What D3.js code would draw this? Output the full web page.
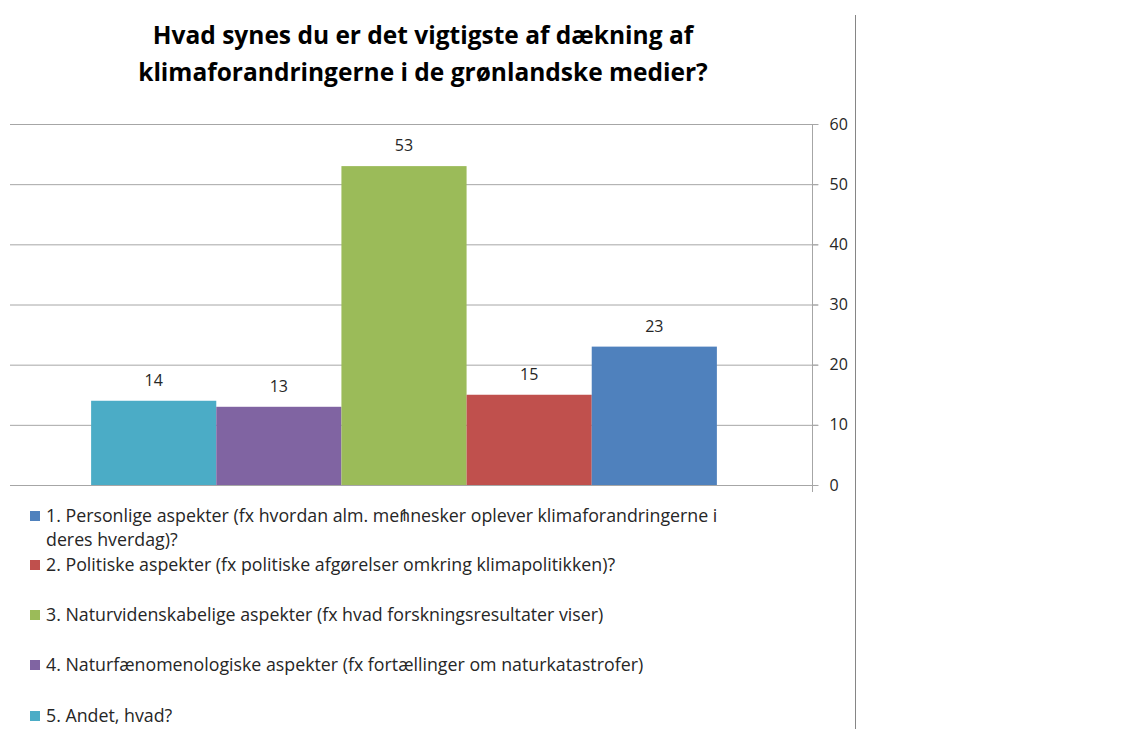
<!DOCTYPE html>
<html>
<head>
<meta charset="utf-8">
<script src="https://cdn.jsdelivr.net/npm/d3@7"></script>
<style>
  body { margin: 0; background: #fff; }
  text { font-family: "Open Sans", "Noto Sans", sans-serif; }
</style>
</head>
<body>
<script>
var width = 1129,
    height = 729

// data
var categories = ["1"]
var seriesNames = [
  "1. Personlige aspekter (fx hvordan alm. mennesker oplever klimaforandringerne i deres hverdag)?",
  "2. Politiske aspekter (fx politiske afgørelser omkring klimapolitikken)?",
  "3. Naturvidenskabelige aspekter (fx hvad forskningsresultater viser)",
  "4. Naturfænomenologiske aspekter (fx fortællinger om naturkatastrofer)",
  "5. Andet, hvad?"
]
var seriesValues = [23, 15, 53, 13, 14]
var seriesColors = ["#4F81BD", "#C0504D", "#9BBB59", "#8064A2", "#4BACC6"]
var yTicks = [0, 10, 20, 30, 40, 50, 60]
var titleLines = ["Hvad synes du er det vigtigste af dækning af", "klimaforandringerne i de grønlandske medier?"]

var svg = d3.select("body").append("svg")
    .attr("width", width)
    .attr("height", height)

var plot = {left: 10, right: 812, top: 124, bottom: 485}

var y = d3.scaleLinear().domain([0, 60]).range([plot.bottom, plot.top])

var x0 = d3.scaleBand().domain(categories)
    .range([plot.left - 14, plot.right])
    .paddingInner(0).paddingOuter(0.152)

// bars drawn in reversed series order (Excel style)
var order = d3.range(seriesNames.length).reverse()
var x1 = d3.scaleBand().domain(order).range([0, x0.bandwidth()])

// gridlines
svg.append("g").selectAll("line").data(yTicks).enter().append("line")
    .attr("x1", plot.left).attr("x2", plot.right + 6)
    .attr("y1", function(d) { return y(d) + 0.5 })
    .attr("y2", function(d) { return y(d) + 0.5 })
    .attr("stroke", "#a6a6a6")
    .attr("stroke-width", 1)

// right axis
var axis = svg.append("g")
    .attr("transform", "translate(" + (plot.right + 0.5) + ",0)")
    .call(d3.axisRight(y).tickValues(yTicks).tickSize(6).tickPadding(11))
axis.select(".domain").remove()
axis.selectAll(".tick line").attr("stroke", "#a6a6a6")
axis.selectAll(".tick text")
    .attr("fill", "#262626")
    .style("font-size", "16px")
    .style("font-family", "'Open Sans', sans-serif")
axis.append("line")
    .attr("x1", 0).attr("x2", 0)
    .attr("y1", plot.top).attr("y2", plot.bottom + 7)
    .attr("stroke", "#a6a6a6")

// bars
var bars = svg.append("g")
categories.forEach(function(c) {
  bars.selectAll("rect.s" + c).data(order).enter().append("rect")
      .attr("x", function(i) { return x0(c) + x1(i) })
      .attr("width", x1.bandwidth())
      .attr("y", function(i) { return y(seriesValues[i]) })
      .attr("height", function(i) { return y(0) - y(seriesValues[i]) })
      .attr("fill", function(i) { return seriesColors[i] })

  bars.selectAll("text.s" + c).data(order).enter().append("text")
      .attr("x", function(i) { return x0(c) + x1(i) + x1.bandwidth() / 2 })
      .attr("y", function(i) { return y(seriesValues[i]) - 15 })
      .attr("text-anchor", "middle")
      .attr("fill", "#262626")
      .style("font-size", "16px")
      .text(function(i) { return seriesValues[i] })

  svg.append("text")
      .attr("x", x0(c) + x0.bandwidth() / 2)
      .attr("y", 521)
      .attr("text-anchor", "middle")
      .attr("fill", "#262626")
      .style("font-size", "16px")
      .text(c)
})

// title
svg.append("g").selectAll("text").data(titleLines).enter().append("text")
    .attr("x", 423)
    .attr("y", function(d, i) { return 44 + i * 37 })
    .attr("text-anchor", "middle")
    .attr("fill", "#000")
    .style("font-size", "24.5px")
    .style("font-weight", "bold")
    .text(function(d) { return d })

// legend
var legendRows = [
  {s: 0, lines: ["1. Personlige aspekter (fx hvordan alm. mennesker oplever klimaforandringerne i", "deres hverdag)?"], y: 516},
  {s: 1, lines: ["2. Politiske aspekter (fx politiske afgørelser omkring klimapolitikken)?"], y: 565},
  {s: 2, lines: ["3. Naturvidenskabelige aspekter (fx hvad forskningsresultater viser)"], y: 615},
  {s: 3, lines: ["4. Naturfænomenologiske aspekter (fx fortællinger om naturkatastrofer)"], y: 665},
  {s: 4, lines: ["5. Andet, hvad?"], y: 716}
]
var legend = svg.append("g")
legendRows.forEach(function(r) {
  legend.append("rect")
      .attr("x", 30).attr("y", r.y - 5)
      .attr("width", 10).attr("height", 10)
      .attr("fill", seriesColors[r.s])
  r.lines.forEach(function(l, j) {
    legend.append("text")
        .attr("x", 46)
        .attr("y", r.y + 6 + j * 24)
        .attr("fill", "#262626")
        .style("font-size", "17.8px")
        .text(l)
  })
})

// frame line on the right
svg.append("line")
    .attr("x1", 855.5).attr("x2", 855.5)
    .attr("y1", 15).attr("y2", height)
    .attr("stroke", "#868686")
</script>
</body>
</html>
